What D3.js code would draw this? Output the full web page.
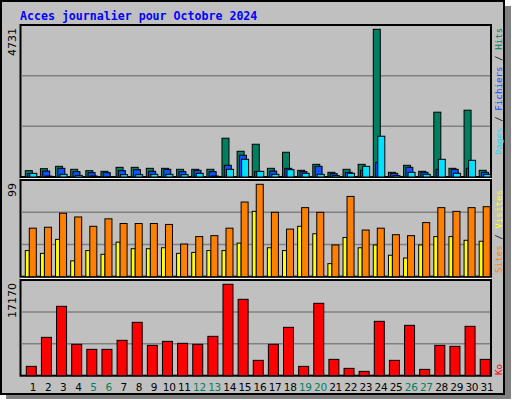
<!DOCTYPE html>
<html><head><meta charset="utf-8">
<script src="https://cdn.jsdelivr.net/npm/d3@7"></script>
<style>body{margin:0;background:#fff}</style></head>
<body><svg id="c" width="512" height="400"></svg>
<script>
const days=d3.range(1,32);
const weekend=[5,6,12,13,19,20,26,27];
const hits=[203,267,342,246,203,182,310,310,278,278,246,246,246,1242,824,1049,278,792,214,406,150,246,406,4731,150,375,182,2076,278,2140,214];
const files=[110,190,278,171,139,139,203,235,182,246,171,214,171,375,696,171,190,278,171,342,107,150,214,471,118,310,150,246,246,278,150];
const pages=[118,30,86,53,32,10,75,75,86,86,75,118,32,246,567,182,86,235,118,86,43,118,342,1306,43,150,86,567,118,535,86];
const sites=[28,25,40,17,28,24,37,30,30,31,25,26,28,28,36,70,31,28,54,46,14,42,31,34,23,20,34,43,43,39,38];
const visits=[52,53,68,64,54,62,57,57,57,56,35,43,44,52,80,99,69,51,74,69,34,86,50,52,45,44,58,74,70,74,75];
const ko=[1754,7206,13033,5890,4950,4950,6642,10026,5702,6454,6078,5890,7394,17170,14349,2882,5890,9086,1754,13597,3070,1379,815,10214,2882,9462,1191,5702,5514,9274,3070];
const maxLabels=["4731","99","17170"];

const svg=d3.select("#c");
svg.append("rect").attr("x",6).attr("y",6).attr("width",505).attr("height",393).attr("fill","#808080");
svg.append("rect").attr("x",1).attr("y",1).attr("width",503).attr("height",393).attr("fill","#c0c0c0").attr("stroke","#000").attr("stroke-width",2);
svg.append("text").attr("x",20).attr("y",20).attr("fill","#0000ff").attr("font-family","DejaVu Sans Mono").attr("font-weight","bold").attr("font-size","11.6px").text("Acces journalier pour Octobre 2024");

const x=d3.scaleBand().domain(days).range([25.3,25.3+15.13*31]);
const L=20.5,R=491;
const panels=[{t:25,b:177,topV:29.3,max:4731},{t:180,b:276.7,topV:184.3,max:99},{t:280,b:375.7,topV:284.3,max:17170}];
panels.forEach((p,i)=>{
  p.y=d3.scaleLinear().domain([0,p.max]).range([p.b,p.topV]);
  svg.append("rect").attr("x",L).attr("y",p.t).attr("width",R-L).attr("height",p.b-p.t).attr("fill","none").attr("stroke","#000").attr("stroke-width",2);
  for(let k=1;k<3;k++){const gy=p.b-(p.b-p.t)*k/3;
    svg.append("line").attr("x1",L+1).attr("x2",R-1).attr("y1",gy).attr("y2",gy).attr("stroke","#808080").attr("stroke-width",1.5);}
  svg.append("text").attr("transform",`translate(16,${p.t+3}) rotate(-90)`).attr("text-anchor","end").attr("font-family","DejaVu Sans").attr("font-size","11px").text(maxLabels[i]);
});
svg.append("line").attr("x1",L).attr("x2",R).attr("y1",178.5).attr("y2",178.5).attr("stroke","#fff");
svg.append("line").attr("x1",L).attr("x2",R).attr("y1",278.5).attr("y2",278.5).attr("stroke","#fff");

function bars(data,p,off,w,col){
  svg.append("g").selectAll("rect").data(data).join("rect")
   .attr("x",(d,i)=>x(days[i])+off).attr("width",w)
   .attr("y",d=>p.y(d)).attr("height",d=>p.b-p.y(d))
   .attr("fill",col).attr("stroke","#000").attr("stroke-width",1);
}
bars(hits,panels[0],0,7,"#008060");
bars(files,panels[0],2.3,7,"#1050ff");
bars(pages,panels[0],4.5,7,"#00e0ff");
bars(sites,panels[1],0,4,"#ffff00");
bars(visits,panels[1],4,7,"#ff8000");
bars(ko,panels[2],1,10,"#ff0000");

svg.append("g").selectAll("text").data(days).join("text")
 .attr("x",d=>x(d)+7.7).attr("y",391).attr("text-anchor","middle")
 .attr("font-family","DejaVu Sans").attr("font-size","10.5px").attr("letter-spacing","-0.3px")
 .attr("fill",d=>weekend.includes(d)?"#008060":"#000").text(d=>d);

function rlab(yb,parts){
  const t=svg.append("text").attr("transform",`translate(502,${yb}) rotate(-90)`).attr("font-family","DejaVu Sans Mono").attr("font-size","9.2px");
  parts.forEach(([s,c])=>t.append("tspan").attr("fill",c).text(s));
}
rlab(155,[["Pages","#00e0ff"],[" / ","#000"],["Fichiers","#1050ff"],[" / ","#000"],["Hits","#008060"]]);
rlab(273,[["Sites","#ff8000"],[" / ","#000"],["Visites","#ffff00"]]);
rlab(375,[["Ko","#ff0000"]]);
</script></body></html>
